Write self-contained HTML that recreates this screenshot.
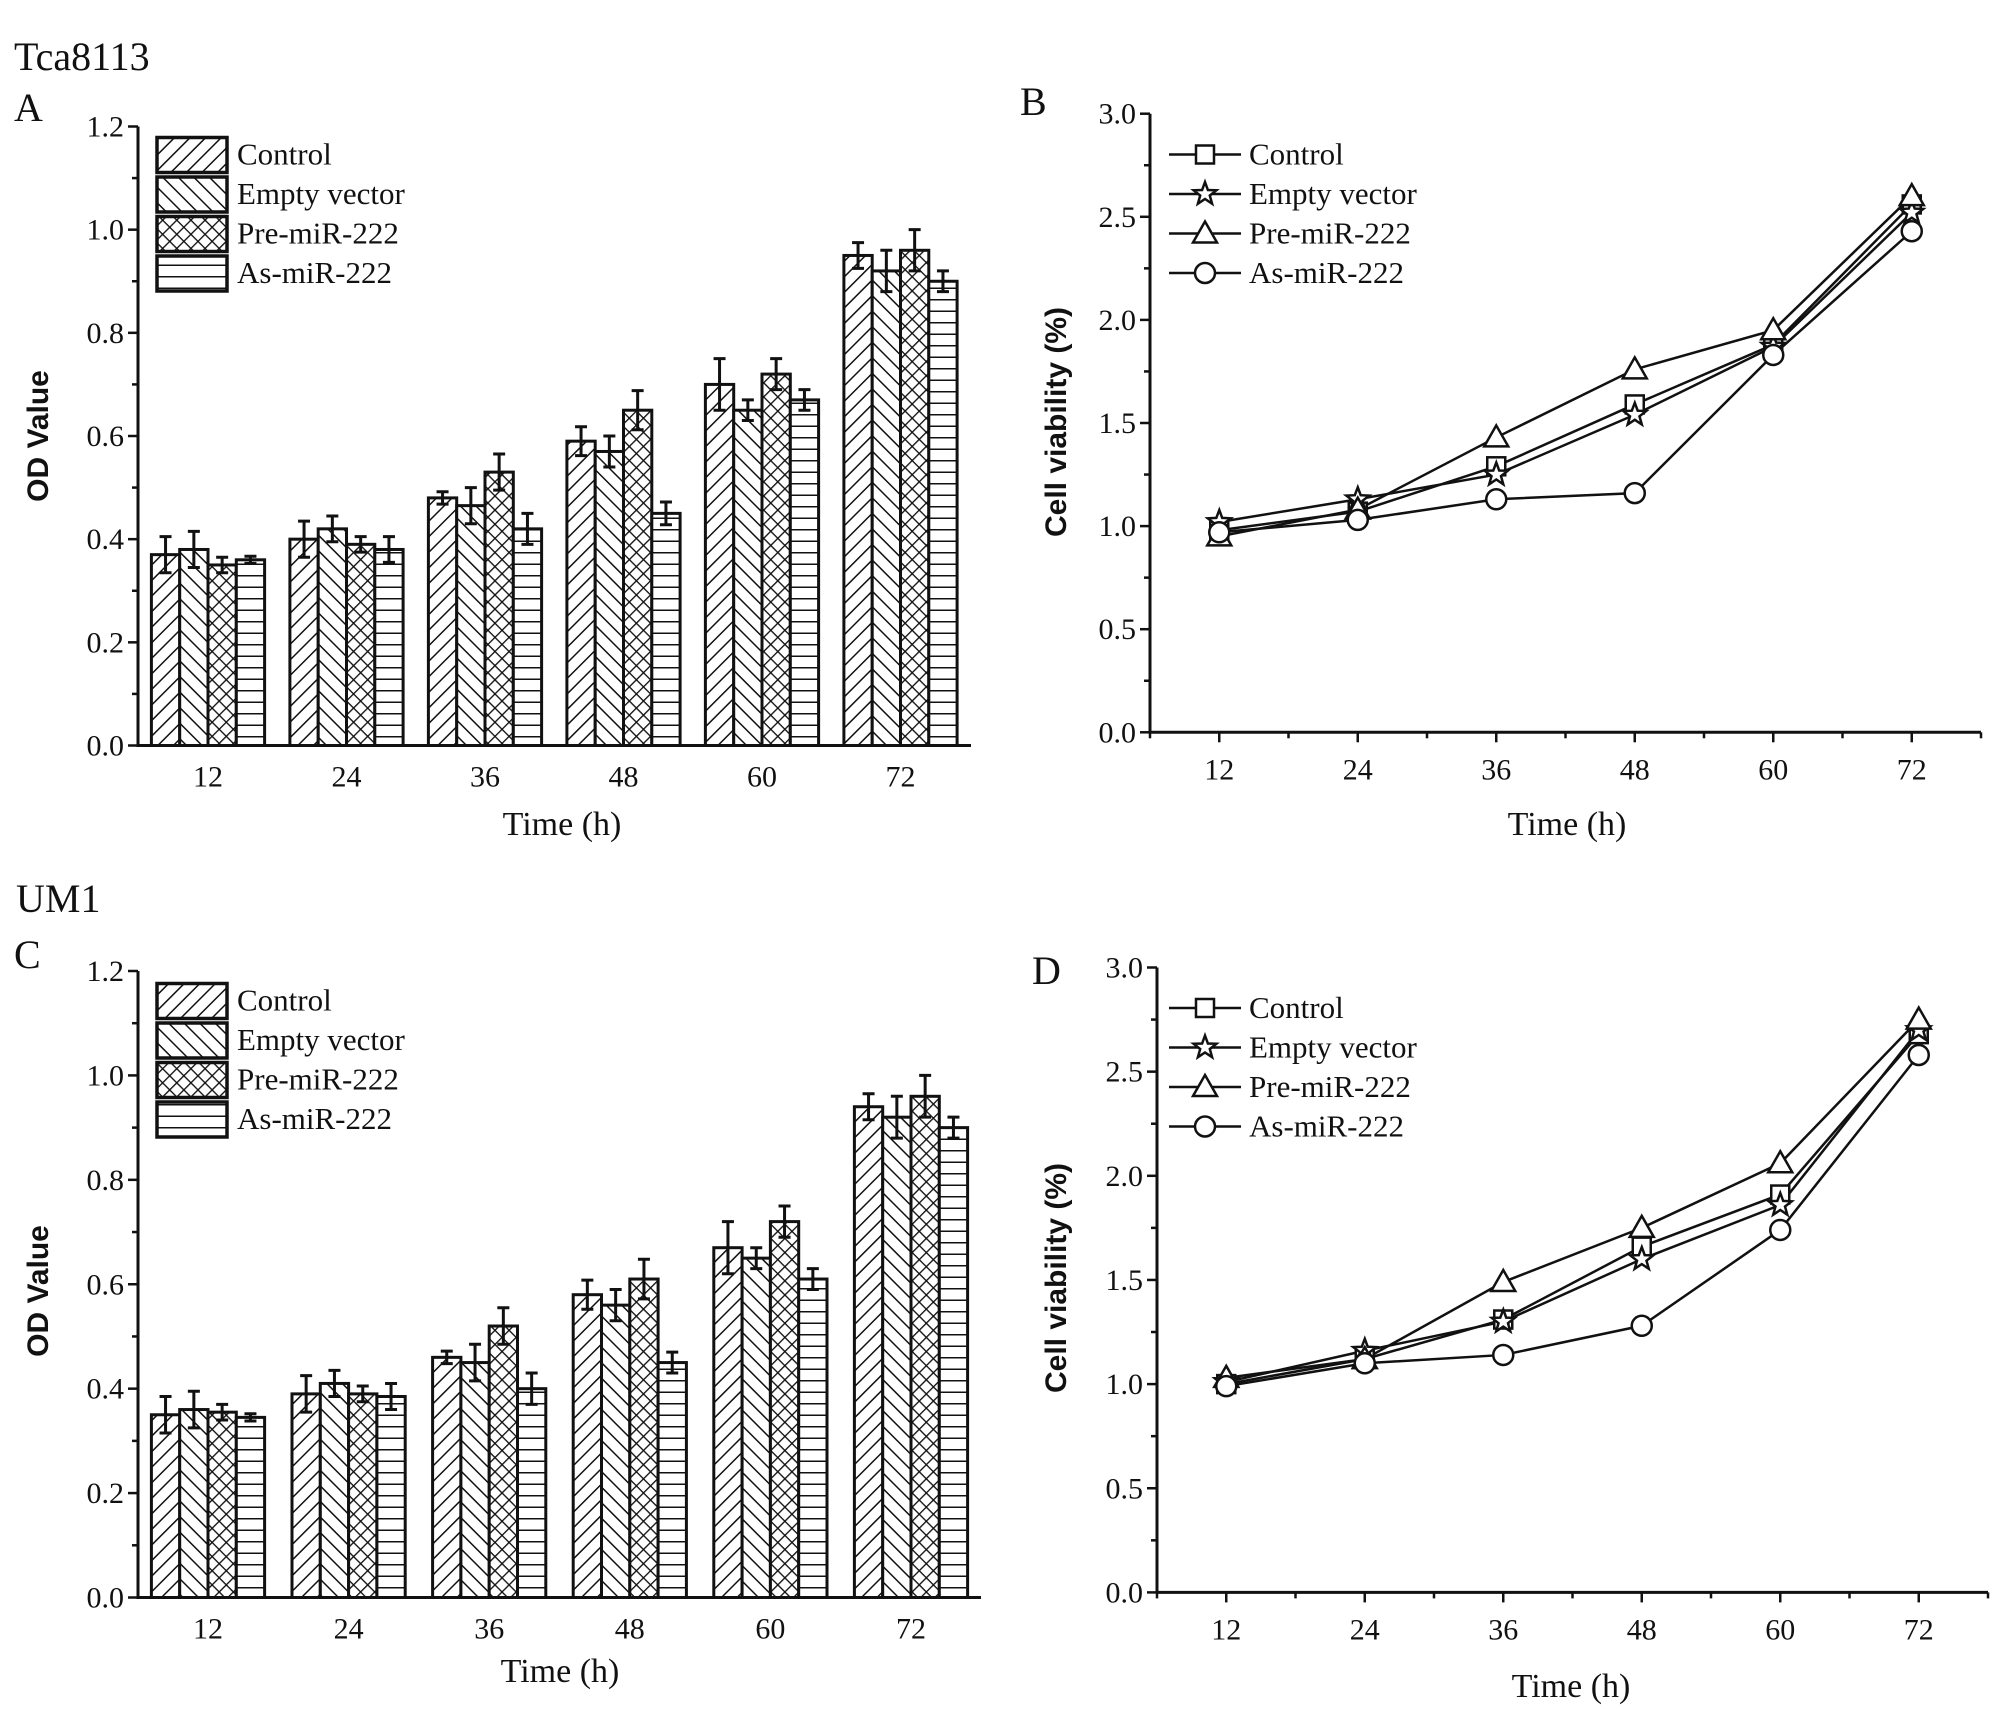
<!DOCTYPE html>
<html><head><meta charset="utf-8"><style>
html,body{margin:0;padding:0;background:#fff;}
svg{display:block;}
text{font-family:"Liberation Serif",serif;fill:#111;}
.sans{font-family:"Liberation Sans",sans-serif;font-weight:bold;}
</style></head><body>
<svg id="fig" width="2004" height="1728" viewBox="0 0 2004 1728" xmlns="http://www.w3.org/2000/svg">
<defs>
<pattern id="pCtrl" patternUnits="userSpaceOnUse" width="11" height="11" patternTransform="rotate(45)"><rect width="11" height="11" fill="#fff"/><line x1="0" y1="0" x2="0" y2="11" stroke="#111" stroke-width="3"/></pattern>
<pattern id="pEmpty" patternUnits="userSpaceOnUse" width="11" height="11" patternTransform="rotate(-45)"><rect width="11" height="11" fill="#fff"/><line x1="0" y1="0" x2="0" y2="11" stroke="#111" stroke-width="3"/></pattern>
<pattern id="pPre" patternUnits="userSpaceOnUse" width="10" height="10" patternTransform="rotate(45)"><rect width="10" height="10" fill="#fff"/><line x1="0" y1="0" x2="0" y2="10" stroke="#111" stroke-width="2.7"/><line x1="0" y1="0" x2="10" y2="0" stroke="#111" stroke-width="2.7"/></pattern>
<pattern id="pAs" patternUnits="userSpaceOnUse" width="10" height="11.5"><rect width="10" height="11.5" fill="#fff"/><line x1="0" y1="0" x2="10" y2="0" stroke="#111" stroke-width="3"/></pattern>
</defs>
<text x="14" y="70" font-size="40">Tca8113</text>
<text x="14" y="121" font-size="40">A</text>
<text x="1020" y="115" font-size="40">B</text>
<text x="16" y="912" font-size="40">UM1</text>
<text x="14" y="968" font-size="40">C</text>
<text x="1032" y="984" font-size="40">D</text>
</svg>
<script>
const times = ["12","24","36","48","60","72"];
const seriesNames = ["Control","Empty vector","Pre-miR-222","As-miR-222"];
const barTicks = [0.0,0.2,0.4,0.6,0.8,1.0,1.2];
const lineTicks = [0.0,0.5,1.0,1.5,2.0,2.5,3.0];
const lineXTicks = [12,24,36,48,60,72];
// Panel A (Tca8113 OD)
const aControl = [0.37,0.40,0.48,0.59,0.70,0.95];
const aEmpty   = [0.38,0.42,0.465,0.57,0.65,0.92];
const aPre     = [0.35,0.39,0.53,0.65,0.72,0.96];
const aAs      = [0.36,0.38,0.42,0.45,0.67,0.90];
const aControlErr = [0.035,0.035,0.012,0.028,0.05,0.025];
const aEmptyErr   = [0.035,0.025,0.035,0.03,0.02,0.04];
const aPreErr     = [0.015,0.015,0.035,0.038,0.03,0.04];
const aAsErr      = [0.007,0.025,0.03,0.022,0.02,0.02];
// Panel C (UM1 OD)
const cControl = [0.35,0.39,0.46,0.58,0.67,0.94];
const cEmpty   = [0.36,0.41,0.45,0.56,0.65,0.92];
const cPre     = [0.355,0.39,0.52,0.61,0.72,0.96];
const cAs      = [0.345,0.385,0.40,0.45,0.61,0.90];
const cControlErr = [0.035,0.035,0.012,0.028,0.05,0.025];
const cEmptyErr   = [0.035,0.025,0.035,0.03,0.02,0.04];
const cPreErr     = [0.015,0.015,0.035,0.038,0.03,0.04];
const cAsErr      = [0.007,0.025,0.03,0.02,0.02,0.02];
// Panel B (Tca8113 viability)
const bControl = [0.98,1.07,1.29,1.59,1.88,2.56];
const bEmpty   = [1.02,1.13,1.25,1.54,1.87,2.52];
const bPre     = [0.95,1.08,1.43,1.76,1.95,2.60];
const bAs      = [0.97,1.03,1.13,1.16,1.83,2.43];
// Panel D (UM1 viability)
const dControl = [1.00,1.12,1.31,1.66,1.91,2.68];
const dEmpty   = [1.01,1.16,1.30,1.60,1.86,2.70];
const dPre     = [1.03,1.12,1.49,1.75,2.06,2.75];
const dAs      = [0.99,1.10,1.14,1.28,1.74,2.58];

const NS="http://www.w3.org/2000/svg";
const svg=document.getElementById('fig');
function mk(tag,attrs,parent){const e=document.createElementNS(NS,tag);for(const k in attrs)e.setAttribute(k,attrs[k]);(parent||svg).appendChild(e);return e;}
function txt(s,attrs,parent){const e=mk('text',attrs,parent);e.textContent=s;return e;}

function barChart(id,ax,values,errs){
  const g=mk('g',{});
  
  
  const y=v=>ax.bottom-(v/1.2)*(ax.bottom-ax.top);
  const bw=28.3;
  const pats=['url(#pCtrl)','url(#pEmpty)','url(#pPre)','url(#pAs)'];
  times.forEach((t,i)=>{
    const cx=ax.x0+ax.step*i;
    values.forEach((arr,s)=>{
      const x=cx-2*bw+s*bw;
      const r=mk('rect',{x:x,y:y(arr[i]),width:bw,height:ax.bottom-y(arr[i]),fill:pats[s],stroke:'#111','stroke-width':3},g);
      
      
      const e=errs[s][i], xm=x+bw/2;
      const eb=mk('path',{d:`M${xm},${y(arr[i]+e)}V${y(arr[i]-e)}M${xm-6},${y(arr[i]+e)}h12M${xm-6},${y(arr[i]-e)}h12`,stroke:'#111','stroke-width':3,fill:'none'},g);
      
      
    });
    const tl=txt(t,{x:cx,y:ax.bottom+41,'font-size':30,'text-anchor':'middle'},g);
    
    
  });
  const axl=mk('path',{d:`M${ax.left},${ax.top}V${ax.bottom}H${ax.right}`,stroke:'#111','stroke-width':3,fill:'none'},g);
  
  
  for(let v=0;v<=1.2001;v+=0.1){
    const major=Math.abs(v*5-Math.round(v*5))<1e-6;
    mk('line',{x1:ax.left-(major?10:6),x2:ax.left,y1:y(v),y2:y(v),stroke:'#111','stroke-width':2.5},g);
  }
  barTicks.forEach(v=>{
    const tl=txt(v.toFixed(1),{x:ax.left-14,y:y(v)+10,'font-size':30,'text-anchor':'end'},g);
    
    
  });
  const xt=txt('Time (h)',{x:ax.xtitle[0],y:ax.xtitle[1],'font-size':34,'text-anchor':'middle'},g);
  
  
  const yt=txt('OD Value',{x:0,y:0,'font-size':30,'text-anchor':'middle',class:'sans',transform:`translate(${ax.ytitle[0]},${ax.ytitle[1]}) rotate(-90)`},g);
  
  
  seriesNames.forEach((n,s)=>{
    const ly=ax.legY+s*39.5;
    const lr=mk('rect',{x:157,y:ly-17,width:70,height:35,fill:pats[s],stroke:'#111','stroke-width':3.5},g);
    
    
    const lt=txt(n,{x:237,y:ly+10,'font-size':31},g);
    
    
  });
}

function marker(kind,x,y,g){
  const a={fill:'#fff',stroke:'#111','stroke-width':2.5};
  if(kind===0) return mk('rect',Object.assign({x:x-9,y:y-9,width:18,height:18},a),g);
  if(kind===2) return mk('path',Object.assign({d:`M${x},${y-12}L${x+12},${y+9}L${x-12},${y+9}Z`},a),g);
  if(kind===3) return mk('circle',Object.assign({cx:x,cy:y,r:10},a),g);
  let d='';for(let k=0;k<10;k++){const r=k%2?5:12;const an=-Math.PI/2+k*Math.PI/5;d+=(k?'L':'M')+(x+r*Math.cos(an)).toFixed(1)+','+(y+r*Math.sin(an)).toFixed(1);}
  return mk('path',Object.assign({d:d+'Z'},a),g);
}

function lineChart(id,ax,values){
  const g=mk('g',{});
  
  
  const y=v=>ax.bottom-(v/3)*(ax.bottom-ax.top);
  const x=t=>ax.left+(t-6)/72*(ax.right-ax.left);
  const axl=mk('path',{d:`M${ax.left},${ax.top}V${ax.bottom}H${ax.right}`,stroke:'#111','stroke-width':3,fill:'none'},g);
  
  
  for(let v=0;v<=3.0001;v+=0.25){
    const major=Math.abs(v*2-Math.round(v*2))<1e-6;
    mk('line',{x1:ax.left-(major?10:6),x2:ax.left,y1:y(v),y2:y(v),stroke:'#111','stroke-width':2.5},g);
  }
  for(let t=6;t<=78;t+=6){
    const major=t%12===0;
    mk('line',{x1:x(t),x2:x(t),y1:ax.bottom,y2:ax.bottom+(major?10:6),stroke:'#111','stroke-width':2.5},g);
  }
  lineTicks.forEach(v=>{
    const tl=txt(v.toFixed(1),{x:ax.left-14,y:y(v)+10,'font-size':30,'text-anchor':'end'},g);
    
    
  });
  lineXTicks.forEach(t=>{
    const tl=txt(String(t),{x:x(t),y:ax.bottom+47,'font-size':30,'text-anchor':'middle'},g);
    
    
  });
  values.forEach((arr,s)=>{
    const d=arr.map((v,i)=>(i?'L':'M')+x(lineXTicks[i])+','+y(v)).join('');
    const p=mk('path',{d:d,fill:'none',stroke:'#111','stroke-width':2.5},g);
    
    
  });
  values.forEach((arr,s)=>{
    arr.forEach((v,i)=>{
      const m=marker(s,x(lineXTicks[i]),y(v),g);
      
      
    });
  });
  seriesNames.forEach((n,s)=>{
    const ly=ax.legY+s*39.5;
    const ll=mk('line',{x1:ax.legX,x2:ax.legX+72,y1:ly,y2:ly,stroke:'#111','stroke-width':2.5},g);
    
    
    const lm=marker(s,ax.legX+36,ly,g);
    
    
    const lt=txt(n,{x:ax.legX+80,y:ly+10,'font-size':31},g);
    
    
  });
  const xt=txt('Time (h)',{x:ax.xtitle[0],y:ax.xtitle[1],'font-size':34,'text-anchor':'middle'},g);
  
  
  const yt=txt('Cell viability (%)',{x:0,y:0,'font-size':30,'text-anchor':'middle',class:'sans',transform:`translate(${ax.ytitle[0]},${ax.ytitle[1]}) rotate(-90)`},g);
  
  
}

barChart('panel-a',{left:138,right:971,top:126.5,bottom:745.5,x0:208,step:138.5,legY:154.5,xtitle:[562,835],ytitle:[48,436]},
  [aControl,aEmpty,aPre,aAs],[aControlErr,aEmptyErr,aPreErr,aAsErr]);
barChart('panel-c',{left:138,right:981,top:971,bottom:1597.5,x0:208,step:140.6,legY:1000.5,xtitle:[560,1682],ytitle:[48,1291]},
  [cControl,cEmpty,cPre,cAs],[cControlErr,cEmptyErr,cPreErr,cAsErr]);
lineChart('panel-b',{left:1150,right:1981,top:113.7,bottom:732.3,legX:1169,legY:154.5,xtitle:[1567,835],ytitle:[1066,422]},
  [bControl,bEmpty,bPre,bAs]);
lineChart('panel-d',{left:1157,right:1988,top:967.5,bottom:1592.4,legX:1169,legY:1008,xtitle:[1571,1697],ytitle:[1066,1278]},
  [dControl,dEmpty,dPre,dAs]);
</script>
</body></html>
